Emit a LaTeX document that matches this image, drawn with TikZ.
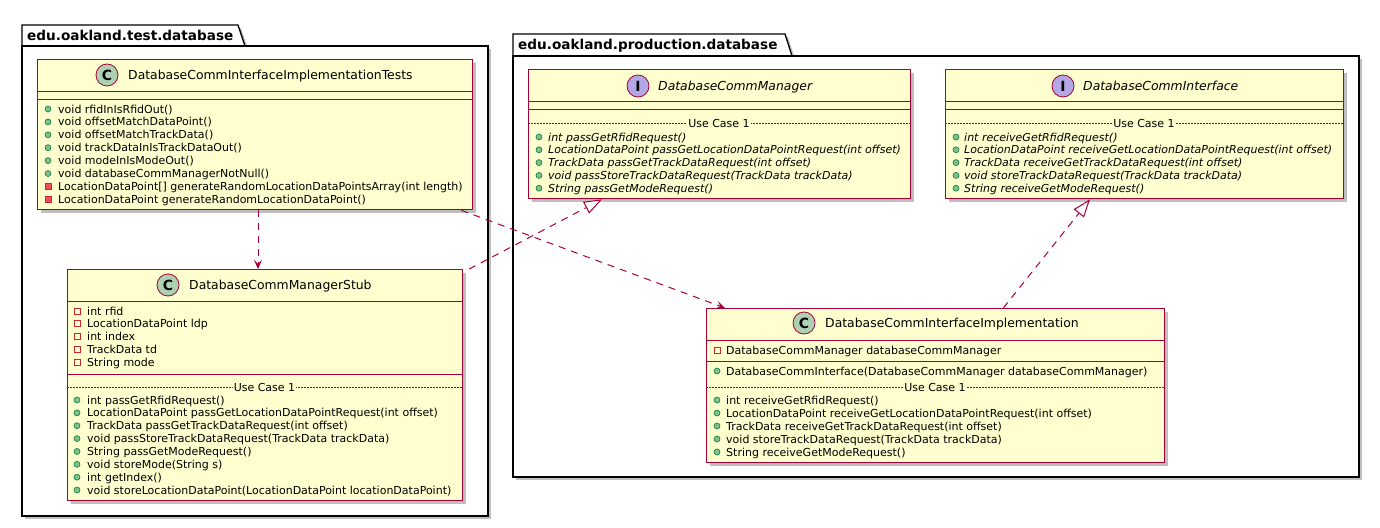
\documentclass[tikz,border=0pt]{standalone}
\usepackage{fontspec}
\setmainfont{DejaVu Sans}
\usetikzlibrary{arrows.meta,shadows}
\definecolor{umlred}{HTML}{A80036}
\definecolor{umlfill}{HTML}{FEFECE}
\definecolor{cfill}{HTML}{ADD1B2}
\definecolor{ifill}{HTML}{B4A7E5}
\definecolor{pubfill}{HTML}{84BE84}
\definecolor{pubdraw}{HTML}{038048}
\definecolor{privfill}{HTML}{F24D5C}
\definecolor{privdraw}{HTML}{C82930}
\newcommand\umlMemFont{\fontsize{11}{13}\selectfont}
\newcommand\umlNameFont{\fontsize{12.4}{15}\selectfont}
\newcommand\umlPub[1]{\path[fill=pubfill, draw=pubdraw, line width=0.6pt] (#1) circle (3pt);}
\newcommand\umlPrivM[1]{\path[fill=privfill, draw=privdraw, line width=0.6pt] (#1) ++(-3,-3) rectangle ++(6,6);}
\newcommand\umlPrivF[1]{\path[draw=privdraw, line width=0.8pt] (#1) ++(-3,-3) rectangle ++(6,6);}
\tikzset{
  shad/.style={drop shadow={shadow xshift=3pt, shadow yshift=-3pt, opacity=0.25, fill=black}},
  pkg/.style={draw=black, fill=white, line width=1.3pt, shad},
  pkgtitle/.style={anchor=base west, inner sep=0pt, font=\bfseries\fontsize{13.6}{16}\selectfont},
  cls/.style={draw=umlred, fill=umlfill, line width=1.3pt, anchor=north west, inner sep=0pt, shad},
  sepline/.style={draw=umlred, line width=1pt},
  ucline/.style={draw=umlred, line width=0.6pt, dash pattern=on 2pt off 1pt},
  uctext/.style={fill=umlfill, inner xsep=1pt, inner ysep=1pt, font=\umlMemFont},
  mem/.style={anchor=base west, inner sep=0pt, font=\umlMemFont},
  imem/.style={anchor=base west, inner sep=0pt, font=\umlMemFont\itshape},
  cname/.style={anchor=base west, inner sep=0pt, font=\umlNameFont},
  iname/.style={anchor=base west, inner sep=0pt, font=\umlNameFont\itshape},
  badge/.style={circle, draw=umlred, line width=0.8pt, minimum size=22pt, inner sep=0pt, font=\bfseries\fontsize{14}{14}\selectfont},
  dep/.style={draw=umlred, line width=1pt, dash pattern=on 7pt off 6pt, -{Stealth[length=9pt, width=8pt, inset=4pt]}},
  realz/.style={draw=umlred, line width=1pt, dash pattern=on 7pt off 6pt, -{Triangle[length=18pt, width=13pt, fill=white, line width=1pt]}}
}
\begin{document}
\begin{tikzpicture}[x=1pt,y=-1pt]
\useasboundingbox (0,0) rectangle (1380,527);
\fill[white] (0,0) rectangle (1380,527);

% ---------- packages ----------
\path[pkg] (22,46) -- (22,25) -- (238,25) -- (245,46) -- cycle;
\path[pkg] (22,46) rectangle (488,516);
\node[pkgtitle] (ptest) at (27,40.5) {edu.oakland.test.database};

\path[pkg] (513,56) -- (513,34) -- (785,34) -- (792,56) -- cycle;
\path[pkg] (513,56) rectangle (1359,477);
\node[pkgtitle] (pprod) at (518,49.5) {edu.oakland.production.database};

% ---------- DatabaseCommInterfaceImplementationTests ----------
\node[cls, minimum width=435pt, minimum height=150pt] (tests) at (37,59) {};
\node[badge, fill=cfill] (testsC) at (107,75) {C};
\node[cname] (testsN) at (128,79.5) {DatabaseCommInterfaceImplementationTests};
\draw[sepline] (37,91) -- (472,91);
\draw[sepline] (37,99) -- (472,99);
\foreach \t [count=\i from 0] in {{void rfidInIsRfidOut()},{void offsetMatchDataPoint()},{void offsetMatchTrackData()},{void trackDataInIsTrackDataOut()},{void modeInIsModeOut()},{void databaseCommManagerNotNull()}}{
  \umlPub{48,109+12.9*\i}
  \node[mem] (tm\i) at (58,113+12.9*\i) {\t};
}
\umlPrivM{48,186.4}
\node[mem] (tm6) at (58,190.4) {LocationDataPoint[] generateRandomLocationDataPointsArray(int length)};
\umlPrivM{48,199.3}
\node[mem] (tm7) at (58,203.3) {LocationDataPoint generateRandomLocationDataPoint()};

% ---------- DatabaseCommManagerStub ----------
\node[cls, minimum width=395pt, minimum height=231pt] (stub) at (67,269) {};
\node[badge, fill=cfill] (stubC) at (168,285) {C};
\node[cname] (stubN) at (189,289.5) {DatabaseCommManagerStub};
\draw[sepline] (67,301) -- (462,301);
\foreach \t [count=\i from 0] in {{int rfid},{LocationDataPoint ldp},{int index},{TrackData td},{String mode}}{
  \umlPrivF{77,311+12.8*\i}
  \node[mem] (sf\i) at (87,315+12.8*\i) {\t};
}
\draw[sepline] (67,374) -- (462,374);
\draw[ucline] (67,387) -- (462,387);
\node[uctext] (stubUC) at (264.5,387) {Use Case 1};
\foreach \t [count=\i from 0] in {{int passGetRfidRequest()},{LocationDataPoint passGetLocationDataPointRequest(int offset)},{TrackData passGetTrackDataRequest(int offset)},{void passStoreTrackDataRequest(TrackData trackData)},{String passGetModeRequest()},{void storeMode(String s)},{int getIndex()},{void storeLocationDataPoint(LocationDataPoint locationDataPoint)}}{
  \umlPub{77,400+12.86*\i}
  \node[mem] (sm\i) at (87,404+12.86*\i) {\t};
}

% ---------- DatabaseCommManager ----------
\node[cls, minimum width=382pt, minimum height=129pt] (dcm) at (528,69) {};
\node[badge, fill=ifill] (dcmI) at (638,86) {I};
\node[iname] (dcmN) at (658,90.5) {DatabaseCommManager};
\draw[sepline] (528,101) -- (910,101);
\draw[sepline] (528,109) -- (910,109);
\draw[ucline] (528,123) -- (910,123);
\node[uctext] (dcmUC) at (719,123) {Use Case 1};
\foreach \t [count=\i from 0] in {{int passGetRfidRequest()},{LocationDataPoint passGetLocationDataPointRequest(int offset)},{TrackData passGetTrackDataRequest(int offset)},{void passStoreTrackDataRequest(TrackData trackData)},{String passGetModeRequest()}}{
  \umlPub{539,137+12.8*\i}
  \node[imem] (dm\i) at (548,141+12.8*\i) {\t};
}

% ---------- DatabaseCommInterface ----------
\node[cls, minimum width=398pt, minimum height=129pt] (dci) at (945,69) {};
\node[badge, fill=ifill] (dciI) at (1063,86) {I};
\node[iname] (dciN) at (1083,90.5) {DatabaseCommInterface};
\draw[sepline] (945,101) -- (1343,101);
\draw[sepline] (945,109) -- (1343,109);
\draw[ucline] (945,123) -- (1343,123);
\node[uctext] (dciUC) at (1144,123) {Use Case 1};
\foreach \t [count=\i from 0] in {{int receiveGetRfidRequest()},{LocationDataPoint receiveGetLocationDataPointRequest(int offset)},{TrackData receiveGetTrackDataRequest(int offset)},{void storeTrackDataRequest(TrackData trackData)},{String receiveGetModeRequest()}}{
  \umlPub{956,137+12.8*\i}
  \node[imem] (ci\i) at (964,141+12.8*\i) {\t};
}

% ---------- DatabaseCommInterfaceImplementation ----------
\node[cls, minimum width=458pt, minimum height=154pt] (impl) at (706,308) {};
\node[badge, fill=cfill] (implC) at (804,323) {C};
\node[cname] (implN) at (825,327.5) {DatabaseCommInterfaceImplementation};
\draw[sepline] (706,340) -- (1164,340);
\umlPrivF{717,350}
\node[mem] (if0) at (726,354) {DatabaseCommManager databaseCommManager};
\draw[sepline] (706,361) -- (1164,361);
\umlPub{717,371}
\node[mem] (ic0) at (726,375) {DatabaseCommInterface(DatabaseCommManager databaseCommManager)};
\draw[ucline] (706,387) -- (1164,387);
\node[uctext] (implUC) at (935,387) {Use Case 1};
\foreach \t [count=\i from 0] in {{int receiveGetRfidRequest()},{LocationDataPoint receiveGetLocationDataPointRequest(int offset)},{TrackData receiveGetTrackDataRequest(int offset)},{void storeTrackDataRequest(TrackData trackData)},{String receiveGetModeRequest()}}{
  \umlPub{717,400+13*\i}
  \node[mem] (im\i) at (726,404+13*\i) {\t};
}

% ---------- connectors ----------
\draw[dep] ([xshift=221pt]tests.south west) -- ([xshift=191pt]stub.north west);
\draw[dep] ([xshift=-12pt]tests.south east) -- ([xshift=19pt]impl.north west);
\draw[realz] ([xshift=6pt]stub.north east) -- ([xshift=74pt]dcm.south west);
\draw[realz] ([xshift=-162pt]impl.north east) -- ([xshift=145pt]dci.south west);
\end{tikzpicture}
\end{document}
